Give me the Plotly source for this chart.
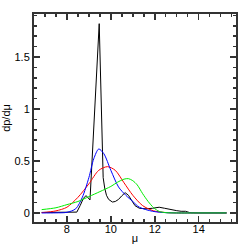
import plotly.graph_objects as go

mu_black = [6.85, 8.0, 8.45, 8.6, 8.75, 8.87, 8.95, 9.05, 9.47, 9.65, 9.72, 9.8, 9.9, 10.07, 10.2, 10.35, 10.5, 10.65, 10.8, 10.95, 11.1, 11.3, 11.6, 11.9, 12.2, 12.45, 12.7, 13.0, 13.2, 13.4, 13.6, 14.0, 15.27]
p_black = [0.005, 0.005, 0.008, 0.07, 0.14, 0.167, 0.15, 0.125, 1.82, 0.34, 0.24, 0.17, 0.13, 0.105, 0.11, 0.13, 0.165, 0.195, 0.17, 0.12, 0.07, 0.045, 0.04, 0.045, 0.055, 0.045, 0.032, 0.022, 0.016, 0.016, 0.003, 0.0, 0.0]

mu_red = [6.85, 7.5, 8.0, 8.5, 9.0, 9.45, 9.85, 10.2, 10.6, 11.0, 11.45, 11.95, 12.5, 13.0, 14.0, 15.27]
p_red = [0.003, 0.02, 0.055, 0.15, 0.28, 0.41, 0.445, 0.41, 0.29, 0.17, 0.07, 0.02, 0.004, 0.0, 0.0, 0.0]

mu_blue = [6.85, 7.5, 8.0, 8.4, 8.7, 9.0, 9.22, 9.45, 9.68, 10.0, 10.35, 10.68, 11.0, 11.3, 11.9, 12.5, 13.0, 14.0, 15.27]
p_blue = [0.0, 0.001, 0.006, 0.04, 0.15, 0.34, 0.52, 0.615, 0.57, 0.41, 0.25, 0.17, 0.11, 0.055, 0.016, 0.003, 0.0, 0.0, 0.0]

mu_green = [6.85, 7.5, 8.0, 8.5, 9.0, 9.5, 10.0, 10.3, 10.6, 10.8, 11.0, 11.2, 11.45, 11.7, 11.95, 12.2, 12.5, 13.0, 14.0, 15.27]
p_green = [0.032, 0.05, 0.08, 0.11, 0.157, 0.205, 0.255, 0.295, 0.325, 0.33, 0.31, 0.27, 0.185, 0.11, 0.05, 0.015, 0.003, 0.0, 0.0, 0.0]

x_ticks = [8, 10, 12, 14]
y_ticks = [0, 0.5, 1, 1.5]
y_tick_text = ["0", "0.5", "1", "1.5"]

FONT = "Liberation Sans, Arial, sans-serif"

fig = go.Figure()
fig.add_trace(go.Scatter(x=mu_black, y=p_black, mode="lines", line=dict(color="black", width=1)))
fig.add_trace(go.Scatter(x=mu_red, y=p_red, mode="lines", line=dict(color="#ff0000", width=1, shape="spline", smoothing=0.8)))
fig.add_trace(go.Scatter(x=mu_blue, y=p_blue, mode="lines", line=dict(color="#0000ff", width=1, shape="spline", smoothing=0.8)))
fig.add_trace(go.Scatter(x=mu_green, y=p_green, mode="lines", line=dict(color="#00ee00", width=1, shape="spline", smoothing=0.8)))

def axis(**kw):
    d = dict(
        showgrid=False, zeroline=False, showline=True, linecolor="#333", linewidth=2,
        mirror="ticks", ticks="inside", ticklen=6, tickwidth=1.5, tickcolor="#333",
        tickfont=dict(family=FONT, size=11, color="black"),
        automargin=False,
    )
    d.update(kw)
    return d

fig.update_layout(
    template="none",
    width=249, height=249,
    margin=dict(l=34, r=13, t=14, b=27, pad=0),
    paper_bgcolor="white", plot_bgcolor="white",
    showlegend=False,
    font=dict(family=FONT, size=11, color="black"),
    xaxis=axis(range=[6.5, 15.7], tickmode="array", tickvals=x_ticks, ticklabelstandoff=-4,
               minor=dict(dtick=0.5, tick0=0, ticklen=3, ticks="inside", tickcolor="#333", tickwidth=1.5),
               title=dict(text="μ", standoff=0, font=dict(family=FONT, size=11, color="black"))),
    yaxis=axis(range=[-0.087, 1.913], tickmode="array", tickvals=y_ticks, ticktext=y_tick_text,
               minor=dict(dtick=0.1, tick0=0, ticklen=3, ticks="inside", tickcolor="#333", tickwidth=1.5),
               title=dict(text="dp/dμ", standoff=9, font=dict(family=FONT, size=11, color="black"))),
)
fig.write_html("out.html", config={"displayModeBar": False, "staticPlot": True},
               post_script="document.body.style.margin='0';")
